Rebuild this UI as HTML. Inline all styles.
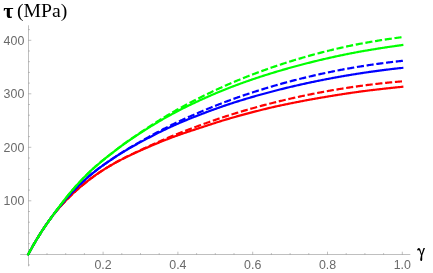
<!DOCTYPE html>
<html><head><meta charset="utf-8"><title>plot</title>
<style>
html,body{margin:0;padding:0;background:#fff;}
body{width:433px;height:273px;overflow:hidden;}
svg{display:block;will-change:transform;}
.tl text{font-family:"Liberation Sans",sans-serif;font-size:12.4px;fill:#6a6a6a;}
.al{font-family:"Liberation Serif",serif;fill:#000;}
</style></head><body>
<svg width="433" height="273" viewBox="0 0 433 273">
<rect width="433" height="273" fill="#fff"/>
<g stroke="#666" stroke-width="0.42" fill="none">
<line x1="20.2" y1="254.5" x2="410.3" y2="254.5"/>
<line x1="28.5" y1="25.3" x2="28.5" y2="266.3"/>
<line x1="47.00" y1="254.5" x2="47.00" y2="253.10"/>
<line x1="65.70" y1="254.5" x2="65.70" y2="253.10"/>
<line x1="84.40" y1="254.5" x2="84.40" y2="253.10"/>
<line x1="103.10" y1="254.5" x2="103.10" y2="251.70"/>
<line x1="121.80" y1="254.5" x2="121.80" y2="253.10"/>
<line x1="140.50" y1="254.5" x2="140.50" y2="253.10"/>
<line x1="159.20" y1="254.5" x2="159.20" y2="253.10"/>
<line x1="177.90" y1="254.5" x2="177.90" y2="251.70"/>
<line x1="196.60" y1="254.5" x2="196.60" y2="253.10"/>
<line x1="215.30" y1="254.5" x2="215.30" y2="253.10"/>
<line x1="234.00" y1="254.5" x2="234.00" y2="253.10"/>
<line x1="252.70" y1="254.5" x2="252.70" y2="251.70"/>
<line x1="271.40" y1="254.5" x2="271.40" y2="253.10"/>
<line x1="290.10" y1="254.5" x2="290.10" y2="253.10"/>
<line x1="308.80" y1="254.5" x2="308.80" y2="253.10"/>
<line x1="327.50" y1="254.5" x2="327.50" y2="251.70"/>
<line x1="346.20" y1="254.5" x2="346.20" y2="253.10"/>
<line x1="364.90" y1="254.5" x2="364.90" y2="253.10"/>
<line x1="383.60" y1="254.5" x2="383.60" y2="253.10"/>
<line x1="402.30" y1="254.5" x2="402.30" y2="251.70"/>
<line x1="28.5" y1="265.00" x2="29.90" y2="265.00"/>
<line x1="28.5" y1="243.60" x2="29.90" y2="243.60"/>
<line x1="28.5" y1="232.90" x2="29.90" y2="232.90"/>
<line x1="28.5" y1="222.20" x2="29.90" y2="222.20"/>
<line x1="28.5" y1="211.50" x2="29.90" y2="211.50"/>
<line x1="28.5" y1="200.80" x2="31.30" y2="200.80"/>
<line x1="28.5" y1="190.10" x2="29.90" y2="190.10"/>
<line x1="28.5" y1="179.40" x2="29.90" y2="179.40"/>
<line x1="28.5" y1="168.70" x2="29.90" y2="168.70"/>
<line x1="28.5" y1="158.00" x2="29.90" y2="158.00"/>
<line x1="28.5" y1="147.30" x2="31.30" y2="147.30"/>
<line x1="28.5" y1="136.60" x2="29.90" y2="136.60"/>
<line x1="28.5" y1="125.90" x2="29.90" y2="125.90"/>
<line x1="28.5" y1="115.20" x2="29.90" y2="115.20"/>
<line x1="28.5" y1="104.50" x2="29.90" y2="104.50"/>
<line x1="28.5" y1="93.80" x2="31.30" y2="93.80"/>
<line x1="28.5" y1="83.10" x2="29.90" y2="83.10"/>
<line x1="28.5" y1="72.40" x2="29.90" y2="72.40"/>
<line x1="28.5" y1="61.70" x2="29.90" y2="61.70"/>
<line x1="28.5" y1="51.00" x2="29.90" y2="51.00"/>
<line x1="28.5" y1="40.30" x2="31.30" y2="40.30"/>
<line x1="28.5" y1="29.60" x2="29.90" y2="29.60"/>
</g>
<g class="tl">
<text x="103.10" y="268.9" text-anchor="middle">0.2</text>
<text x="177.90" y="268.9" text-anchor="middle">0.4</text>
<text x="252.70" y="268.9" text-anchor="middle">0.6</text>
<text x="327.50" y="268.9" text-anchor="middle">0.8</text>
<text x="402.30" y="268.9" text-anchor="middle">1.0</text>
<text x="24.3" y="205.20" text-anchor="end">100</text>
<text x="24.3" y="151.70" text-anchor="end">200</text>
<text x="24.3" y="98.20" text-anchor="end">300</text>
<text x="24.3" y="44.70" text-anchor="end">400</text>
</g>
<g>
<path d="M28.30,254.30 L29.23,252.55 L30.17,250.82 L31.11,249.11 L32.04,247.43 L32.98,245.78 L33.91,244.15 L34.84,242.54 L35.78,240.95 L36.72,239.39 L37.65,237.85 L38.59,236.32 L39.52,234.82 L40.45,233.34 L41.39,231.88 L42.33,230.44 L43.26,229.01 L44.20,227.61 L45.13,226.22 L46.06,224.86 L47.00,223.51 L47.94,222.18 L48.87,220.88 L49.81,219.59 L50.74,218.32 L51.67,217.08 L52.61,215.85 L53.55,214.65 L54.48,213.46 L55.41,212.29 L56.35,211.15 L57.28,210.02 L58.22,208.92 L59.16,207.83 L60.09,206.76 L61.03,205.71 L61.96,204.68 L62.89,203.66 L63.83,202.66 L64.77,201.68 L65.70,200.71 L66.64,199.75 L67.57,198.80 L68.50,197.86 L69.44,196.93 L70.38,196.01 L71.31,195.10 L72.25,194.21 L73.18,193.32 L74.11,192.45 L75.05,191.58 L75.98,190.73 L76.92,189.89 L77.86,189.06 L78.79,188.24 L79.73,187.43 L80.66,186.63 L81.60,185.84 L82.53,185.06 L83.47,184.29 L84.40,183.53 L85.33,182.78 L86.27,182.04 L87.20,181.30 L88.14,180.58 L89.08,179.86 L90.01,179.15 L90.95,178.46 L91.88,177.76 L92.81,177.08 L93.75,176.41 L94.68,175.74 L95.62,175.08 L96.55,174.43 L97.49,173.79 L98.42,173.15 L99.36,172.52 L100.30,171.90 L101.23,171.28 L102.17,170.67 L103.10,170.07 L104.03,169.48 L104.97,168.89 L105.91,168.31 L106.84,167.74 L107.77,167.17 L108.71,166.61 L109.64,166.05 L110.58,165.51 L111.52,164.96 L112.45,164.43 L113.39,163.90 L114.32,163.37 L115.25,162.85 L116.19,162.34 L117.12,161.83 L118.06,161.33 L118.99,160.83 L119.93,160.34 L120.86,159.85 L121.80,159.37 L122.73,158.89 L123.67,158.42 L124.61,157.95 L125.54,157.49 L126.47,157.03 L127.41,156.57 L128.34,156.12 L129.28,155.67 L130.22,155.22 L131.15,154.78 L132.09,154.34 L133.02,153.90 L133.96,153.47 L134.89,153.04 L135.83,152.61 L136.76,152.18 L137.69,151.76 L138.63,151.34 L139.56,150.92 L140.50,150.50 L141.44,150.08 L142.37,149.67 L143.31,149.26 L144.24,148.85 L145.18,148.44 L146.11,148.03 L147.05,147.62 L147.98,147.22 L148.92,146.81 L149.85,146.41 L150.78,146.01 L151.72,145.61 L152.66,145.21 L153.59,144.81 L154.53,144.42 L155.46,144.03 L156.40,143.63 L157.33,143.25 L158.27,142.86 L159.20,142.47 L160.13,142.09 L161.07,141.71 L162.00,141.33 L162.94,140.95 L163.88,140.58 L164.81,140.21 L165.75,139.84 L166.68,139.47 L167.62,139.11 L168.55,138.75 L169.49,138.39 L170.42,138.03 L171.36,137.68 L172.29,137.33 L173.23,136.98 L174.16,136.63 L175.10,136.29 L176.03,135.95 L176.97,135.62 L177.90,135.28 L178.84,134.95 L179.77,134.62 L180.71,134.29 L181.64,133.97 L182.58,133.64 L183.51,133.32 L184.44,133.00 L185.38,132.69 L186.31,132.37 L187.25,132.06 L188.19,131.75 L189.12,131.44 L190.06,131.13 L190.99,130.82 L191.93,130.51 L192.86,130.21 L193.80,129.90 L194.73,129.60 L195.67,129.30 L196.60,128.99 L197.54,128.69 L198.47,128.39 L199.41,128.08 L200.34,127.78 L201.28,127.47 L202.21,127.16 L203.15,126.86 L204.08,126.55 L205.02,126.24 L205.95,125.93 L206.89,125.62 L207.82,125.31 L208.75,125.01 L209.69,124.70 L210.62,124.39 L211.56,124.09 L212.50,123.78 L213.43,123.48 L214.37,123.17 L215.30,122.87 L216.24,122.57 L217.17,122.27 L218.11,121.97 L219.04,121.68 L219.97,121.38 L220.91,121.09 L221.84,120.80 L222.78,120.52 L223.72,120.23 L224.65,119.95 L225.59,119.67 L226.52,119.39 L227.46,119.12 L228.39,118.84 L229.33,118.57 L230.26,118.29 L231.19,118.02 L232.13,117.75 L233.06,117.48 L234.00,117.22 L234.94,116.95 L235.87,116.69 L236.81,116.43 L237.74,116.16 L238.68,115.91 L239.61,115.65 L240.55,115.39 L241.48,115.13 L242.42,114.88 L243.35,114.62 L244.29,114.37 L245.22,114.12 L246.16,113.87 L247.09,113.62 L248.03,113.38 L248.96,113.13 L249.90,112.89 L250.83,112.64 L251.77,112.40 L252.70,112.15 L253.64,111.91 L254.57,111.67 L255.51,111.43 L256.44,111.19 L257.38,110.95 L258.31,110.71 L259.25,110.47 L260.18,110.24 L261.12,110.00 L262.05,109.77 L262.99,109.53 L263.92,109.30 L264.86,109.07 L265.79,108.84 L266.73,108.61 L267.66,108.39 L268.59,108.16 L269.53,107.94 L270.46,107.72 L271.40,107.50 L272.33,107.29 L273.27,107.07 L274.20,106.86 L275.14,106.65 L276.07,106.44 L277.01,106.24 L277.94,106.03 L278.88,105.83 L279.81,105.63 L280.75,105.43 L281.69,105.23 L282.62,105.03 L283.56,104.83 L284.49,104.64 L285.43,104.44 L286.36,104.24 L287.30,104.05 L288.23,103.86 L289.17,103.67 L290.10,103.48 L291.04,103.29 L291.97,103.10 L292.91,102.91 L293.84,102.72 L294.78,102.53 L295.71,102.35 L296.65,102.16 L297.58,101.98 L298.52,101.80 L299.45,101.61 L300.39,101.43 L301.32,101.25 L302.26,101.07 L303.19,100.89 L304.12,100.72 L305.06,100.54 L306.00,100.36 L306.93,100.19 L307.87,100.01 L308.80,99.84 L309.74,99.67 L310.67,99.50 L311.61,99.33 L312.54,99.16 L313.48,98.99 L314.41,98.83 L315.35,98.66 L316.28,98.50 L317.21,98.33 L318.15,98.17 L319.08,98.01 L320.02,97.85 L320.95,97.69 L321.89,97.53 L322.82,97.37 L323.76,97.21 L324.69,97.05 L325.63,96.90 L326.56,96.74 L327.50,96.58 L328.44,96.43 L329.37,96.27 L330.31,96.12 L331.24,95.97 L332.18,95.81 L333.11,95.66 L334.05,95.51 L334.98,95.36 L335.92,95.21 L336.85,95.06 L337.79,94.91 L338.72,94.76 L339.66,94.62 L340.59,94.47 L341.53,94.32 L342.46,94.18 L343.40,94.03 L344.33,93.89 L345.27,93.75 L346.20,93.60 L347.14,93.46 L348.07,93.32 L349.01,93.18 L349.94,93.04 L350.88,92.91 L351.81,92.77 L352.75,92.63 L353.68,92.50 L354.62,92.37 L355.55,92.23 L356.49,92.10 L357.42,91.97 L358.36,91.84 L359.29,91.71 L360.23,91.59 L361.16,91.46 L362.10,91.34 L363.03,91.21 L363.96,91.09 L364.90,90.97 L365.83,90.86 L366.77,90.74 L367.70,90.62 L368.64,90.51 L369.57,90.39 L370.51,90.28 L371.44,90.17 L372.38,90.05 L373.31,89.94 L374.25,89.83 L375.19,89.72 L376.12,89.61 L377.06,89.51 L377.99,89.40 L378.93,89.29 L379.86,89.18 L380.80,89.07 L381.73,88.97 L382.67,88.86 L383.60,88.75 L384.54,88.65 L385.47,88.55 L386.41,88.44 L387.34,88.34 L388.28,88.24 L389.21,88.14 L390.15,88.04 L391.08,87.94 L392.02,87.84 L392.95,87.74 L393.89,87.64 L394.82,87.54 L395.76,87.45 L396.69,87.35 L397.62,87.25 L398.56,87.16 L399.50,87.07 L400.43,86.97 L401.37,86.88 L402.30,86.79" fill="none" stroke="#ff0000" stroke-width="2.2" stroke-linejoin="round" stroke-linecap="square"/>
<path d="M28.30,254.30 L29.23,252.55 L30.17,250.82 L31.11,249.11 L32.04,247.43 L32.98,245.78 L33.91,244.15 L34.84,242.54 L35.78,240.95 L36.72,239.39 L37.65,237.85 L38.59,236.32 L39.52,234.82 L40.45,233.34 L41.39,231.88 L42.33,230.44 L43.26,229.01 L44.20,227.61 L45.13,226.22 L46.06,224.86 L47.00,223.51 L47.94,222.18 L48.87,220.88 L49.81,219.59 L50.74,218.32 L51.67,217.08 L52.61,215.85 L53.55,214.65 L54.48,213.46 L55.41,212.29 L56.35,211.15 L57.28,210.02 L58.22,208.92 L59.16,207.83 L60.09,206.76 L61.03,205.71 L61.96,204.68 L62.89,203.66 L63.83,202.66 L64.77,201.68 L65.70,200.71 L66.64,199.75 L67.57,198.80 L68.50,197.86 L69.44,196.93 L70.38,196.01 L71.31,195.10 L72.25,194.21 L73.18,193.32 L74.11,192.45 L75.05,191.58 L75.98,190.73 L76.92,189.89 L77.86,189.06 L78.79,188.24 L79.73,187.43 L80.66,186.63 L81.60,185.84 L82.53,185.06 L83.47,184.29 L84.40,183.53 L85.33,182.78 L86.27,182.04 L87.20,181.30 L88.14,180.58 L89.08,179.86 L90.01,179.15 L90.95,178.46 L91.88,177.76 L92.81,177.08 L93.75,176.41 L94.68,175.74 L95.62,175.08 L96.55,174.43 L97.49,173.79 L98.42,173.15 L99.36,172.52 L100.30,171.90 L101.23,171.28 L102.17,170.67 L103.10,170.07 L104.03,169.47 L104.97,168.88 L105.91,168.30 L106.84,167.72 L107.77,167.15 L108.71,166.58 L109.64,166.02 L110.58,165.47 L111.52,164.92 L112.45,164.38 L113.39,163.84 L114.32,163.31 L115.25,162.78 L116.19,162.26 L117.12,161.74 L118.06,161.23 L118.99,160.73 L119.93,160.23 L120.86,159.73 L121.80,159.24 L122.73,158.76 L123.67,158.27 L124.61,157.79 L125.54,157.32 L126.47,156.85 L127.41,156.38 L128.34,155.91 L129.28,155.45 L130.22,154.99 L131.15,154.53 L132.09,154.08 L133.02,153.63 L133.96,153.18 L134.89,152.73 L135.83,152.29 L136.76,151.84 L137.69,151.40 L138.63,150.96 L139.56,150.53 L140.50,150.09 L141.44,149.66 L142.37,149.22 L143.31,148.79 L144.24,148.36 L145.18,147.92 L146.11,147.49 L147.05,147.06 L147.98,146.63 L148.92,146.20 L149.85,145.78 L150.78,145.35 L151.72,144.92 L152.66,144.50 L153.59,144.08 L154.53,143.65 L155.46,143.23 L156.40,142.81 L157.33,142.40 L158.27,141.98 L159.20,141.57 L160.13,141.15 L161.07,140.74 L162.00,140.33 L162.94,139.93 L163.88,139.52 L164.81,139.12 L165.75,138.71 L166.68,138.31 L167.62,137.92 L168.55,137.52 L169.49,137.13 L170.42,136.74 L171.36,136.35 L172.29,135.96 L173.23,135.58 L174.16,135.20 L175.10,134.82 L176.03,134.44 L176.97,134.07 L177.90,133.70 L178.84,133.33 L179.77,132.96 L180.71,132.59 L181.64,132.23 L182.58,131.87 L183.51,131.51 L184.44,131.15 L185.38,130.79 L186.31,130.43 L187.25,130.08 L188.19,129.72 L189.12,129.37 L190.06,129.02 L190.99,128.67 L191.93,128.32 L192.86,127.97 L193.80,127.62 L194.73,127.27 L195.67,126.92 L196.60,126.58 L197.54,126.23 L198.47,125.89 L199.41,125.54 L200.34,125.20 L201.28,124.86 L202.21,124.52 L203.15,124.18 L204.08,123.84 L205.02,123.50 L205.95,123.17 L206.89,122.83 L207.82,122.50 L208.75,122.16 L209.69,121.83 L210.62,121.50 L211.56,121.17 L212.50,120.84 L213.43,120.52 L214.37,120.19 L215.30,119.87 L216.24,119.55 L217.17,119.23 L218.11,118.91 L219.04,118.59 L219.97,118.27 L220.91,117.96 L221.84,117.65 L222.78,117.34 L223.72,117.03 L224.65,116.72 L225.59,116.42 L226.52,116.11 L227.46,115.81 L228.39,115.51 L229.33,115.21 L230.26,114.91 L231.19,114.62 L232.13,114.32 L233.06,114.03 L234.00,113.74 L234.94,113.45 L235.87,113.16 L236.81,112.88 L237.74,112.59 L238.68,112.31 L239.61,112.03 L240.55,111.75 L241.48,111.47 L242.42,111.19 L243.35,110.91 L244.29,110.64 L245.22,110.37 L246.16,110.09 L247.09,109.82 L248.03,109.56 L248.96,109.29 L249.90,109.02 L250.83,108.76 L251.77,108.49 L252.70,108.23 L253.64,107.97 L254.57,107.71 L255.51,107.45 L256.44,107.19 L257.38,106.93 L258.31,106.68 L259.25,106.43 L260.18,106.17 L261.12,105.92 L262.05,105.67 L262.99,105.42 L263.92,105.17 L264.86,104.93 L265.79,104.68 L266.73,104.44 L267.66,104.20 L268.59,103.95 L269.53,103.71 L270.46,103.47 L271.40,103.24 L272.33,103.00 L273.27,102.76 L274.20,102.53 L275.14,102.30 L276.07,102.06 L277.01,101.83 L277.94,101.60 L278.88,101.37 L279.81,101.15 L280.75,100.92 L281.69,100.70 L282.62,100.47 L283.56,100.25 L284.49,100.03 L285.43,99.81 L286.36,99.59 L287.30,99.37 L288.23,99.15 L289.17,98.94 L290.10,98.72 L291.04,98.51 L291.97,98.30 L292.91,98.09 L293.84,97.88 L294.78,97.67 L295.71,97.46 L296.65,97.26 L297.58,97.05 L298.52,96.85 L299.45,96.65 L300.39,96.44 L301.32,96.24 L302.26,96.04 L303.19,95.85 L304.12,95.65 L305.06,95.45 L306.00,95.26 L306.93,95.07 L307.87,94.87 L308.80,94.68 L309.74,94.49 L310.67,94.31 L311.61,94.12 L312.54,93.93 L313.48,93.75 L314.41,93.56 L315.35,93.38 L316.28,93.20 L317.21,93.02 L318.15,92.84 L319.08,92.66 L320.02,92.48 L320.95,92.31 L321.89,92.13 L322.82,91.96 L323.76,91.79 L324.69,91.61 L325.63,91.44 L326.56,91.28 L327.50,91.11 L328.44,90.94 L329.37,90.77 L330.31,90.61 L331.24,90.45 L332.18,90.28 L333.11,90.12 L334.05,89.96 L334.98,89.81 L335.92,89.65 L336.85,89.49 L337.79,89.34 L338.72,89.18 L339.66,89.03 L340.59,88.88 L341.53,88.73 L342.46,88.58 L343.40,88.43 L344.33,88.28 L345.27,88.13 L346.20,87.99 L347.14,87.84 L348.07,87.70 L349.01,87.56 L349.94,87.42 L350.88,87.28 L351.81,87.14 L352.75,87.00 L353.68,86.87 L354.62,86.73 L355.55,86.60 L356.49,86.47 L357.42,86.33 L358.36,86.20 L359.29,86.07 L360.23,85.95 L361.16,85.82 L362.10,85.69 L363.03,85.57 L363.96,85.44 L364.90,85.32 L365.83,85.20 L366.77,85.08 L367.70,84.96 L368.64,84.84 L369.57,84.72 L370.51,84.61 L371.44,84.49 L372.38,84.38 L373.31,84.27 L374.25,84.16 L375.19,84.04 L376.12,83.94 L377.06,83.83 L377.99,83.72 L378.93,83.61 L379.86,83.51 L380.80,83.41 L381.73,83.30 L382.67,83.20 L383.60,83.10 L384.54,83.00 L385.47,82.90 L386.41,82.81 L387.34,82.71 L388.28,82.62 L389.21,82.52 L390.15,82.43 L391.08,82.34 L392.02,82.25 L392.95,82.16 L393.89,82.07 L394.82,81.98 L395.76,81.90 L396.69,81.81 L397.62,81.73 L398.56,81.64 L399.50,81.56 L400.43,81.48 L401.37,81.40 L402.30,81.32" fill="none" stroke="#ff0000" stroke-width="2.2" stroke-dasharray="4.91 4.91" stroke-linejoin="round" stroke-linecap="square"/>
<path d="M28.30,254.30 L29.23,252.55 L30.17,250.82 L31.11,249.11 L32.04,247.43 L32.98,245.78 L33.91,244.15 L34.84,242.54 L35.78,240.95 L36.72,239.39 L37.65,237.85 L38.59,236.32 L39.52,234.82 L40.45,233.35 L41.39,231.89 L42.33,230.45 L43.26,229.03 L44.20,227.63 L45.13,226.24 L46.06,224.88 L47.00,223.53 L47.94,222.19 L48.87,220.86 L49.81,219.55 L50.74,218.26 L51.67,216.98 L52.61,215.71 L53.55,214.45 L54.48,213.21 L55.41,211.99 L56.35,210.77 L57.28,209.58 L58.22,208.39 L59.16,207.22 L60.09,206.07 L61.03,204.93 L61.96,203.79 L62.89,202.67 L63.83,201.56 L64.77,200.46 L65.70,199.38 L66.64,198.30 L67.57,197.24 L68.50,196.19 L69.44,195.16 L70.38,194.14 L71.31,193.13 L72.25,192.13 L73.18,191.15 L74.11,190.19 L75.05,189.24 L75.98,188.30 L76.92,187.37 L77.86,186.46 L78.79,185.55 L79.73,184.65 L80.66,183.77 L81.60,182.89 L82.53,182.02 L83.47,181.16 L84.40,180.31 L85.33,179.47 L86.27,178.64 L87.20,177.82 L88.14,177.00 L89.08,176.20 L90.01,175.40 L90.95,174.62 L91.88,173.84 L92.81,173.08 L93.75,172.32 L94.68,171.58 L95.62,170.85 L96.55,170.12 L97.49,169.40 L98.42,168.69 L99.36,167.99 L100.30,167.29 L101.23,166.60 L102.17,165.93 L103.10,165.26 L104.03,164.60 L104.97,163.94 L105.91,163.30 L106.84,162.65 L107.77,162.01 L108.71,161.38 L109.64,160.75 L110.58,160.11 L111.52,159.48 L112.45,158.85 L113.39,158.22 L114.32,157.60 L115.25,156.99 L116.19,156.38 L117.12,155.77 L118.06,155.17 L118.99,154.58 L119.93,153.99 L120.86,153.41 L121.80,152.83 L122.73,152.26 L123.67,151.69 L124.61,151.13 L125.54,150.57 L126.47,150.02 L127.41,149.47 L128.34,148.92 L129.28,148.38 L130.22,147.84 L131.15,147.31 L132.09,146.78 L133.02,146.25 L133.96,145.72 L134.89,145.20 L135.83,144.68 L136.76,144.17 L137.69,143.65 L138.63,143.14 L139.56,142.63 L140.50,142.12 L141.44,141.62 L142.37,141.12 L143.31,140.62 L144.24,140.12 L145.18,139.62 L146.11,139.12 L147.05,138.63 L147.98,138.14 L148.92,137.65 L149.85,137.16 L150.78,136.68 L151.72,136.19 L152.66,135.71 L153.59,135.23 L154.53,134.75 L155.46,134.28 L156.40,133.80 L157.33,133.33 L158.27,132.86 L159.20,132.39 L160.13,131.93 L161.07,131.47 L162.00,131.01 L162.94,130.55 L163.88,130.10 L164.81,129.65 L165.75,129.20 L166.68,128.75 L167.62,128.31 L168.55,127.87 L169.49,127.44 L170.42,127.01 L171.36,126.58 L172.29,126.15 L173.23,125.73 L174.16,125.31 L175.10,124.89 L176.03,124.48 L176.97,124.07 L177.90,123.66 L178.84,123.25 L179.77,122.85 L180.71,122.45 L181.64,122.06 L182.58,121.66 L183.51,121.27 L184.44,120.88 L185.38,120.49 L186.31,120.11 L187.25,119.73 L188.19,119.34 L189.12,118.97 L190.06,118.59 L190.99,118.21 L191.93,117.84 L192.86,117.47 L193.80,117.10 L194.73,116.73 L195.67,116.36 L196.60,115.99 L197.54,115.63 L198.47,115.26 L199.41,114.90 L200.34,114.54 L201.28,114.18 L202.21,113.82 L203.15,113.46 L204.08,113.10 L205.02,112.75 L205.95,112.39 L206.89,112.04 L207.82,111.69 L208.75,111.34 L209.69,110.99 L210.62,110.65 L211.56,110.30 L212.50,109.96 L213.43,109.62 L214.37,109.28 L215.30,108.94 L216.24,108.61 L217.17,108.27 L218.11,107.94 L219.04,107.61 L219.97,107.28 L220.91,106.95 L221.84,106.63 L222.78,106.30 L223.72,105.98 L224.65,105.66 L225.59,105.34 L226.52,105.03 L227.46,104.71 L228.39,104.40 L229.33,104.09 L230.26,103.78 L231.19,103.48 L232.13,103.17 L233.06,102.87 L234.00,102.57 L234.94,102.27 L235.87,101.97 L236.81,101.67 L237.74,101.38 L238.68,101.08 L239.61,100.79 L240.55,100.50 L241.48,100.21 L242.42,99.93 L243.35,99.64 L244.29,99.36 L245.22,99.08 L246.16,98.79 L247.09,98.51 L248.03,98.24 L248.96,97.96 L249.90,97.68 L250.83,97.41 L251.77,97.14 L252.70,96.87 L253.64,96.60 L254.57,96.33 L255.51,96.06 L256.44,95.79 L257.38,95.53 L258.31,95.26 L259.25,95.00 L260.18,94.74 L261.12,94.48 L262.05,94.22 L262.99,93.96 L263.92,93.71 L264.86,93.45 L265.79,93.20 L266.73,92.95 L267.66,92.70 L268.59,92.45 L269.53,92.20 L270.46,91.95 L271.40,91.70 L272.33,91.46 L273.27,91.21 L274.20,90.97 L275.14,90.73 L276.07,90.49 L277.01,90.25 L277.94,90.01 L278.88,89.77 L279.81,89.54 L280.75,89.30 L281.69,89.07 L282.62,88.84 L283.56,88.61 L284.49,88.38 L285.43,88.15 L286.36,87.92 L287.30,87.69 L288.23,87.47 L289.17,87.24 L290.10,87.02 L291.04,86.80 L291.97,86.58 L292.91,86.36 L293.84,86.14 L294.78,85.92 L295.71,85.71 L296.65,85.49 L297.58,85.28 L298.52,85.06 L299.45,84.85 L300.39,84.64 L301.32,84.43 L302.26,84.22 L303.19,84.01 L304.12,83.81 L305.06,83.60 L306.00,83.40 L306.93,83.19 L307.87,82.99 L308.80,82.79 L309.74,82.59 L310.67,82.39 L311.61,82.19 L312.54,82.00 L313.48,81.80 L314.41,81.61 L315.35,81.41 L316.28,81.22 L317.21,81.03 L318.15,80.84 L319.08,80.65 L320.02,80.46 L320.95,80.27 L321.89,80.09 L322.82,79.90 L323.76,79.72 L324.69,79.54 L325.63,79.35 L326.56,79.17 L327.50,78.99 L328.44,78.82 L329.37,78.64 L330.31,78.46 L331.24,78.29 L332.18,78.11 L333.11,77.94 L334.05,77.76 L334.98,77.59 L335.92,77.42 L336.85,77.25 L337.79,77.08 L338.72,76.92 L339.66,76.75 L340.59,76.59 L341.53,76.42 L342.46,76.26 L343.40,76.10 L344.33,75.93 L345.27,75.77 L346.20,75.61 L347.14,75.46 L348.07,75.30 L349.01,75.14 L349.94,74.99 L350.88,74.83 L351.81,74.68 L352.75,74.53 L353.68,74.38 L354.62,74.23 L355.55,74.08 L356.49,73.93 L357.42,73.78 L358.36,73.64 L359.29,73.49 L360.23,73.35 L361.16,73.20 L362.10,73.06 L363.03,72.92 L363.96,72.78 L364.90,72.64 L365.83,72.50 L366.77,72.37 L367.70,72.23 L368.64,72.09 L369.57,71.96 L370.51,71.83 L371.44,71.69 L372.38,71.56 L373.31,71.43 L374.25,71.30 L375.19,71.17 L376.12,71.05 L377.06,70.92 L377.99,70.79 L378.93,70.67 L379.86,70.55 L380.80,70.42 L381.73,70.30 L382.67,70.18 L383.60,70.06 L384.54,69.94 L385.47,69.83 L386.41,69.71 L387.34,69.59 L388.28,69.48 L389.21,69.36 L390.15,69.25 L391.08,69.14 L392.02,69.03 L392.95,68.92 L393.89,68.81 L394.82,68.70 L395.76,68.60 L396.69,68.49 L397.62,68.38 L398.56,68.28 L399.50,68.18 L400.43,68.07 L401.37,67.97 L402.30,67.87" fill="none" stroke="#0000ff" stroke-width="2.2" stroke-linejoin="round" stroke-linecap="square"/>
<path d="M28.30,254.30 L29.23,252.55 L30.17,250.82 L31.11,249.11 L32.04,247.43 L32.98,245.78 L33.91,244.15 L34.84,242.54 L35.78,240.95 L36.72,239.39 L37.65,237.85 L38.59,236.32 L39.52,234.82 L40.45,233.35 L41.39,231.89 L42.33,230.45 L43.26,229.03 L44.20,227.63 L45.13,226.24 L46.06,224.88 L47.00,223.53 L47.94,222.19 L48.87,220.86 L49.81,219.55 L50.74,218.26 L51.67,216.98 L52.61,215.71 L53.55,214.45 L54.48,213.21 L55.41,211.99 L56.35,210.77 L57.28,209.58 L58.22,208.39 L59.16,207.22 L60.09,206.07 L61.03,204.93 L61.96,203.79 L62.89,202.67 L63.83,201.56 L64.77,200.46 L65.70,199.38 L66.64,198.30 L67.57,197.24 L68.50,196.19 L69.44,195.16 L70.38,194.14 L71.31,193.13 L72.25,192.13 L73.18,191.15 L74.11,190.19 L75.05,189.24 L75.98,188.30 L76.92,187.37 L77.86,186.46 L78.79,185.55 L79.73,184.65 L80.66,183.77 L81.60,182.89 L82.53,182.02 L83.47,181.16 L84.40,180.31 L85.33,179.47 L86.27,178.64 L87.20,177.82 L88.14,177.00 L89.08,176.20 L90.01,175.40 L90.95,174.62 L91.88,173.84 L92.81,173.08 L93.75,172.32 L94.68,171.58 L95.62,170.85 L96.55,170.12 L97.49,169.40 L98.42,168.69 L99.36,167.98 L100.30,167.28 L101.23,166.59 L102.17,165.90 L103.10,165.23 L104.03,164.56 L104.97,163.90 L105.91,163.25 L106.84,162.60 L107.77,161.95 L108.71,161.31 L109.64,160.67 L110.58,160.03 L111.52,159.38 L112.45,158.74 L113.39,158.11 L114.32,157.48 L115.25,156.85 L116.19,156.23 L117.12,155.62 L118.06,155.01 L118.99,154.40 L119.93,153.81 L120.86,153.21 L121.80,152.63 L122.73,152.04 L123.67,151.46 L124.61,150.89 L125.54,150.31 L126.47,149.74 L127.41,149.18 L128.34,148.62 L129.28,148.06 L130.22,147.50 L131.15,146.95 L132.09,146.40 L133.02,145.86 L133.96,145.31 L134.89,144.77 L135.83,144.23 L136.76,143.70 L137.69,143.16 L138.63,142.63 L139.56,142.10 L140.50,141.57 L141.44,141.04 L142.37,140.51 L143.31,139.99 L144.24,139.46 L145.18,138.94 L146.11,138.42 L147.05,137.90 L147.98,137.38 L148.92,136.86 L149.85,136.35 L150.78,135.83 L151.72,135.32 L152.66,134.81 L153.59,134.30 L154.53,133.79 L155.46,133.29 L156.40,132.78 L157.33,132.28 L158.27,131.78 L159.20,131.29 L160.13,130.79 L161.07,130.30 L162.00,129.81 L162.94,129.32 L163.88,128.84 L164.81,128.35 L165.75,127.87 L166.68,127.40 L167.62,126.92 L168.55,126.45 L169.49,125.98 L170.42,125.52 L171.36,125.06 L172.29,124.60 L173.23,124.14 L174.16,123.69 L175.10,123.24 L176.03,122.79 L176.97,122.35 L177.90,121.91 L178.84,121.47 L179.77,121.03 L180.71,120.60 L181.64,120.17 L182.58,119.74 L183.51,119.31 L184.44,118.89 L185.38,118.47 L186.31,118.05 L187.25,117.63 L188.19,117.21 L189.12,116.80 L190.06,116.39 L190.99,115.98 L191.93,115.57 L192.86,115.16 L193.80,114.75 L194.73,114.35 L195.67,113.95 L196.60,113.54 L197.54,113.14 L198.47,112.74 L199.41,112.34 L200.34,111.95 L201.28,111.55 L202.21,111.16 L203.15,110.76 L204.08,110.37 L205.02,109.98 L205.95,109.59 L206.89,109.21 L207.82,108.82 L208.75,108.43 L209.69,108.05 L210.62,107.67 L211.56,107.29 L212.50,106.91 L213.43,106.53 L214.37,106.16 L215.30,105.79 L216.24,105.42 L217.17,105.05 L218.11,104.68 L219.04,104.31 L219.97,103.95 L220.91,103.59 L221.84,103.23 L222.78,102.87 L223.72,102.51 L224.65,102.16 L225.59,101.81 L226.52,101.46 L227.46,101.11 L228.39,100.76 L229.33,100.42 L230.26,100.07 L231.19,99.73 L232.13,99.39 L233.06,99.06 L234.00,98.72 L234.94,98.39 L235.87,98.06 L236.81,97.73 L237.74,97.40 L238.68,97.07 L239.61,96.75 L240.55,96.42 L241.48,96.10 L242.42,95.78 L243.35,95.46 L244.29,95.15 L245.22,94.83 L246.16,94.52 L247.09,94.21 L248.03,93.90 L248.96,93.59 L249.90,93.28 L250.83,92.97 L251.77,92.67 L252.70,92.37 L253.64,92.07 L254.57,91.77 L255.51,91.47 L256.44,91.17 L257.38,90.87 L258.31,90.58 L259.25,90.29 L260.18,90.00 L261.12,89.71 L262.05,89.42 L262.99,89.13 L263.92,88.84 L264.86,88.56 L265.79,88.28 L266.73,87.99 L267.66,87.71 L268.59,87.44 L269.53,87.16 L270.46,86.88 L271.40,86.61 L272.33,86.33 L273.27,86.06 L274.20,85.79 L275.14,85.52 L276.07,85.25 L277.01,84.99 L277.94,84.72 L278.88,84.46 L279.81,84.19 L280.75,83.93 L281.69,83.67 L282.62,83.42 L283.56,83.16 L284.49,82.90 L285.43,82.65 L286.36,82.39 L287.30,82.14 L288.23,81.89 L289.17,81.64 L290.10,81.40 L291.04,81.15 L291.97,80.90 L292.91,80.66 L293.84,80.42 L294.78,80.18 L295.71,79.94 L296.65,79.70 L297.58,79.46 L298.52,79.22 L299.45,78.99 L300.39,78.76 L301.32,78.52 L302.26,78.29 L303.19,78.06 L304.12,77.83 L305.06,77.61 L306.00,77.38 L306.93,77.16 L307.87,76.93 L308.80,76.71 L309.74,76.49 L310.67,76.27 L311.61,76.06 L312.54,75.84 L313.48,75.62 L314.41,75.41 L315.35,75.20 L316.28,74.99 L317.21,74.78 L318.15,74.57 L319.08,74.36 L320.02,74.15 L320.95,73.95 L321.89,73.74 L322.82,73.54 L323.76,73.34 L324.69,73.14 L325.63,72.94 L326.56,72.74 L327.50,72.55 L328.44,72.35 L329.37,72.16 L330.31,71.97 L331.24,71.78 L332.18,71.59 L333.11,71.40 L334.05,71.21 L334.98,71.02 L335.92,70.84 L336.85,70.66 L337.79,70.47 L338.72,70.29 L339.66,70.11 L340.59,69.93 L341.53,69.76 L342.46,69.58 L343.40,69.41 L344.33,69.23 L345.27,69.06 L346.20,68.89 L347.14,68.72 L348.07,68.55 L349.01,68.38 L349.94,68.22 L350.88,68.05 L351.81,67.89 L352.75,67.73 L353.68,67.56 L354.62,67.40 L355.55,67.25 L356.49,67.09 L357.42,66.93 L358.36,66.78 L359.29,66.62 L360.23,66.47 L361.16,66.32 L362.10,66.17 L363.03,66.02 L363.96,65.87 L364.90,65.73 L365.83,65.58 L366.77,65.44 L367.70,65.29 L368.64,65.15 L369.57,65.01 L370.51,64.87 L371.44,64.74 L372.38,64.60 L373.31,64.46 L374.25,64.33 L375.19,64.20 L376.12,64.06 L377.06,63.93 L377.99,63.80 L378.93,63.68 L379.86,63.55 L380.80,63.42 L381.73,63.30 L382.67,63.18 L383.60,63.05 L384.54,62.93 L385.47,62.81 L386.41,62.69 L387.34,62.58 L388.28,62.46 L389.21,62.35 L390.15,62.23 L391.08,62.12 L392.02,62.01 L392.95,61.90 L393.89,61.79 L394.82,61.68 L395.76,61.58 L396.69,61.47 L397.62,61.37 L398.56,61.26 L399.50,61.16 L400.43,61.06 L401.37,60.96 L402.30,60.86" fill="none" stroke="#0000ff" stroke-width="2.2" stroke-dasharray="4.91 4.91" stroke-linejoin="round" stroke-linecap="square"/>
<path d="M28.30,254.30 L29.23,252.55 L30.17,250.82 L31.11,249.11 L32.04,247.43 L32.98,245.78 L33.91,244.15 L34.84,242.54 L35.78,240.95 L36.72,239.39 L37.65,237.85 L38.59,236.33 L39.52,234.83 L40.45,233.35 L41.39,231.90 L42.33,230.47 L43.26,229.06 L44.20,227.67 L45.13,226.30 L46.06,224.94 L47.00,223.59 L47.94,222.25 L48.87,220.91 L49.81,219.59 L50.74,218.27 L51.67,216.97 L52.61,215.66 L53.55,214.37 L54.48,213.09 L55.41,211.81 L56.35,210.54 L57.28,209.27 L58.22,208.02 L59.16,206.78 L60.09,205.54 L61.03,204.31 L61.96,203.09 L62.89,201.87 L63.83,200.65 L64.77,199.45 L65.70,198.25 L66.64,197.06 L67.57,195.89 L68.50,194.73 L69.44,193.58 L70.38,192.46 L71.31,191.35 L72.25,190.25 L73.18,189.17 L74.11,188.10 L75.05,187.06 L75.98,186.02 L76.92,184.99 L77.86,183.98 L78.79,182.97 L79.73,181.97 L80.66,180.98 L81.60,180.00 L82.53,179.02 L83.47,178.06 L84.40,177.11 L85.33,176.16 L86.27,175.22 L87.20,174.29 L88.14,173.37 L89.08,172.46 L90.01,171.55 L90.95,170.66 L91.88,169.79 L92.81,168.93 L93.75,168.09 L94.68,167.27 L95.62,166.45 L96.55,165.65 L97.49,164.85 L98.42,164.06 L99.36,163.27 L100.30,162.48 L101.23,161.70 L102.17,160.93 L103.10,160.17 L104.03,159.42 L104.97,158.68 L105.91,157.94 L106.84,157.20 L107.77,156.47 L108.71,155.74 L109.64,155.00 L110.58,154.27 L111.52,153.53 L112.45,152.79 L113.39,152.05 L114.32,151.32 L115.25,150.60 L116.19,149.88 L117.12,149.17 L118.06,148.46 L118.99,147.76 L119.93,147.06 L120.86,146.37 L121.80,145.69 L122.73,145.01 L123.67,144.33 L124.61,143.66 L125.54,143.00 L126.47,142.34 L127.41,141.69 L128.34,141.04 L129.28,140.39 L130.22,139.75 L131.15,139.11 L132.09,138.48 L133.02,137.85 L133.96,137.22 L134.89,136.60 L135.83,135.98 L136.76,135.36 L137.69,134.74 L138.63,134.13 L139.56,133.53 L140.50,132.92 L141.44,132.32 L142.37,131.72 L143.31,131.12 L144.24,130.52 L145.18,129.93 L146.11,129.34 L147.05,128.75 L147.98,128.17 L148.92,127.58 L149.85,127.00 L150.78,126.42 L151.72,125.85 L152.66,125.27 L153.59,124.70 L154.53,124.13 L155.46,123.57 L156.40,123.00 L157.33,122.44 L158.27,121.88 L159.20,121.33 L160.13,120.78 L161.07,120.23 L162.00,119.68 L162.94,119.14 L163.88,118.60 L164.81,118.07 L165.75,117.53 L166.68,117.01 L167.62,116.48 L168.55,115.96 L169.49,115.44 L170.42,114.93 L171.36,114.42 L172.29,113.91 L173.23,113.41 L174.16,112.91 L175.10,112.41 L176.03,111.92 L176.97,111.43 L177.90,110.95 L178.84,110.46 L179.77,109.98 L180.71,109.51 L181.64,109.04 L182.58,108.57 L183.51,108.10 L184.44,107.64 L185.38,107.18 L186.31,106.72 L187.25,106.26 L188.19,105.81 L189.12,105.36 L190.06,104.91 L190.99,104.46 L191.93,104.02 L192.86,103.58 L193.80,103.14 L194.73,102.70 L195.67,102.26 L196.60,101.83 L197.54,101.39 L198.47,100.96 L199.41,100.53 L200.34,100.11 L201.28,99.68 L202.21,99.26 L203.15,98.83 L204.08,98.41 L205.02,97.99 L205.95,97.58 L206.89,97.16 L207.82,96.75 L208.75,96.33 L209.69,95.92 L210.62,95.52 L211.56,95.11 L212.50,94.71 L213.43,94.30 L214.37,93.90 L215.30,93.51 L216.24,93.11 L217.17,92.72 L218.11,92.33 L219.04,91.94 L219.97,91.55 L220.91,91.17 L221.84,90.78 L222.78,90.40 L223.72,90.03 L224.65,89.65 L225.59,89.28 L226.52,88.91 L227.46,88.54 L228.39,88.17 L229.33,87.81 L230.26,87.44 L231.19,87.08 L232.13,86.73 L233.06,86.37 L234.00,86.01 L234.94,85.66 L235.87,85.31 L236.81,84.96 L237.74,84.62 L238.68,84.27 L239.61,83.93 L240.55,83.59 L241.48,83.25 L242.42,82.91 L243.35,82.58 L244.29,82.25 L245.22,81.91 L246.16,81.58 L247.09,81.26 L248.03,80.93 L248.96,80.60 L249.90,80.28 L250.83,79.96 L251.77,79.64 L252.70,79.32 L253.64,79.00 L254.57,78.69 L255.51,78.38 L256.44,78.06 L257.38,77.75 L258.31,77.44 L259.25,77.14 L260.18,76.83 L261.12,76.52 L262.05,76.22 L262.99,75.92 L263.92,75.62 L264.86,75.32 L265.79,75.02 L266.73,74.73 L267.66,74.43 L268.59,74.14 L269.53,73.85 L270.46,73.56 L271.40,73.27 L272.33,72.98 L273.27,72.70 L274.20,72.41 L275.14,72.13 L276.07,71.85 L277.01,71.57 L277.94,71.29 L278.88,71.01 L279.81,70.73 L280.75,70.46 L281.69,70.18 L282.62,69.91 L283.56,69.64 L284.49,69.37 L285.43,69.10 L286.36,68.84 L287.30,68.57 L288.23,68.31 L289.17,68.04 L290.10,67.78 L291.04,67.52 L291.97,67.26 L292.91,67.00 L293.84,66.75 L294.78,66.49 L295.71,66.24 L296.65,65.98 L297.58,65.73 L298.52,65.48 L299.45,65.23 L300.39,64.98 L301.32,64.74 L302.26,64.49 L303.19,64.25 L304.12,64.00 L305.06,63.76 L306.00,63.52 L306.93,63.28 L307.87,63.04 L308.80,62.81 L309.74,62.57 L310.67,62.34 L311.61,62.10 L312.54,61.87 L313.48,61.64 L314.41,61.41 L315.35,61.18 L316.28,60.95 L317.21,60.73 L318.15,60.50 L319.08,60.28 L320.02,60.05 L320.95,59.83 L321.89,59.61 L322.82,59.39 L323.76,59.18 L324.69,58.96 L325.63,58.74 L326.56,58.53 L327.50,58.31 L328.44,58.10 L329.37,57.89 L330.31,57.68 L331.24,57.47 L332.18,57.26 L333.11,57.06 L334.05,56.85 L334.98,56.65 L335.92,56.44 L336.85,56.24 L337.79,56.04 L338.72,55.84 L339.66,55.64 L340.59,55.44 L341.53,55.24 L342.46,55.05 L343.40,54.85 L344.33,54.66 L345.27,54.47 L346.20,54.28 L347.14,54.09 L348.07,53.90 L349.01,53.71 L349.94,53.53 L350.88,53.35 L351.81,53.17 L352.75,52.99 L353.68,52.81 L354.62,52.63 L355.55,52.46 L356.49,52.29 L357.42,52.11 L358.36,51.94 L359.29,51.77 L360.23,51.61 L361.16,51.44 L362.10,51.27 L363.03,51.11 L363.96,50.95 L364.90,50.78 L365.83,50.62 L366.77,50.46 L367.70,50.30 L368.64,50.15 L369.57,49.99 L370.51,49.83 L371.44,49.68 L372.38,49.52 L373.31,49.37 L374.25,49.22 L375.19,49.06 L376.12,48.91 L377.06,48.76 L377.99,48.61 L378.93,48.46 L379.86,48.32 L380.80,48.17 L381.73,48.02 L382.67,47.88 L383.60,47.74 L384.54,47.59 L385.47,47.45 L386.41,47.31 L387.34,47.17 L388.28,47.03 L389.21,46.90 L390.15,46.76 L391.08,46.62 L392.02,46.49 L392.95,46.36 L393.89,46.22 L394.82,46.09 L395.76,45.96 L396.69,45.83 L397.62,45.71 L398.56,45.58 L399.50,45.45 L400.43,45.33 L401.37,45.20 L402.30,45.08" fill="none" stroke="#00ff00" stroke-width="2.2" stroke-linejoin="round" stroke-linecap="square"/>
<path d="M28.30,254.30 L29.23,252.55 L30.17,250.82 L31.11,249.11 L32.04,247.43 L32.98,245.78 L33.91,244.15 L34.84,242.54 L35.78,240.95 L36.72,239.39 L37.65,237.85 L38.59,236.33 L39.52,234.83 L40.45,233.35 L41.39,231.90 L42.33,230.47 L43.26,229.06 L44.20,227.67 L45.13,226.30 L46.06,224.94 L47.00,223.59 L47.94,222.25 L48.87,220.91 L49.81,219.59 L50.74,218.27 L51.67,216.97 L52.61,215.66 L53.55,214.37 L54.48,213.09 L55.41,211.81 L56.35,210.54 L57.28,209.27 L58.22,208.02 L59.16,206.78 L60.09,205.54 L61.03,204.31 L61.96,203.09 L62.89,201.87 L63.83,200.65 L64.77,199.45 L65.70,198.25 L66.64,197.06 L67.57,195.89 L68.50,194.73 L69.44,193.58 L70.38,192.46 L71.31,191.35 L72.25,190.25 L73.18,189.17 L74.11,188.10 L75.05,187.06 L75.98,186.02 L76.92,184.99 L77.86,183.98 L78.79,182.97 L79.73,181.97 L80.66,180.98 L81.60,180.00 L82.53,179.02 L83.47,178.06 L84.40,177.11 L85.33,176.16 L86.27,175.22 L87.20,174.29 L88.14,173.37 L89.08,172.46 L90.01,171.55 L90.95,170.66 L91.88,169.79 L92.81,168.93 L93.75,168.09 L94.68,167.27 L95.62,166.45 L96.55,165.65 L97.49,164.85 L98.42,164.05 L99.36,163.26 L100.30,162.47 L101.23,161.69 L102.17,160.92 L103.10,160.15 L104.03,159.40 L104.97,158.65 L105.91,157.90 L106.84,157.16 L107.77,156.42 L108.71,155.68 L109.64,154.94 L110.58,154.20 L111.52,153.46 L112.45,152.71 L113.39,151.96 L114.32,151.23 L115.25,150.49 L116.19,149.77 L117.12,149.05 L118.06,148.33 L118.99,147.62 L119.93,146.92 L120.86,146.22 L121.80,145.53 L122.73,144.84 L123.67,144.16 L124.61,143.48 L125.54,142.81 L126.47,142.14 L127.41,141.47 L128.34,140.81 L129.28,140.16 L130.22,139.50 L131.15,138.85 L132.09,138.21 L133.02,137.57 L133.96,136.93 L134.89,136.29 L135.83,135.66 L136.76,135.03 L137.69,134.40 L138.63,133.78 L139.56,133.16 L140.50,132.53 L141.44,131.90 L142.37,131.28 L143.31,130.65 L144.24,130.03 L145.18,129.41 L146.11,128.80 L147.05,128.18 L147.98,127.57 L148.92,126.95 L149.85,126.34 L150.78,125.74 L151.72,125.13 L152.66,124.53 L153.59,123.93 L154.53,123.33 L155.46,122.73 L156.40,122.13 L157.33,121.54 L158.27,120.95 L159.20,120.37 L160.13,119.78 L161.07,119.20 L162.00,118.62 L162.94,118.05 L163.88,117.47 L164.81,116.90 L165.75,116.34 L166.68,115.77 L167.62,115.21 L168.55,114.66 L169.49,114.10 L170.42,113.55 L171.36,113.01 L172.29,112.46 L173.23,111.93 L174.16,111.39 L175.10,110.86 L176.03,110.33 L176.97,109.80 L177.90,109.28 L178.84,108.76 L179.77,108.24 L180.71,107.73 L181.64,107.22 L182.58,106.71 L183.51,106.20 L184.44,105.70 L185.38,105.20 L186.31,104.70 L187.25,104.21 L188.19,103.72 L189.12,103.23 L190.06,102.74 L190.99,102.25 L191.93,101.77 L192.86,101.29 L193.80,100.80 L194.73,100.33 L195.67,99.85 L196.60,99.37 L197.54,98.90 L198.47,98.43 L199.41,97.96 L200.34,97.49 L201.28,97.02 L202.21,96.56 L203.15,96.09 L204.08,95.63 L205.02,95.17 L205.95,94.71 L206.89,94.25 L207.82,93.80 L208.75,93.34 L209.69,92.89 L210.62,92.44 L211.56,92.00 L212.50,91.55 L213.43,91.11 L214.37,90.67 L215.30,90.23 L216.24,89.79 L217.17,89.35 L218.11,88.92 L219.04,88.49 L219.97,88.06 L220.91,87.64 L221.84,87.21 L222.78,86.79 L223.72,86.37 L224.65,85.95 L225.59,85.54 L226.52,85.13 L227.46,84.72 L228.39,84.31 L229.33,83.90 L230.26,83.50 L231.19,83.10 L232.13,82.70 L233.06,82.30 L234.00,81.91 L234.94,81.51 L235.87,81.12 L236.81,80.73 L237.74,80.35 L238.68,79.96 L239.61,79.58 L240.55,79.20 L241.48,78.82 L242.42,78.44 L243.35,78.07 L244.29,77.69 L245.22,77.32 L246.16,76.95 L247.09,76.58 L248.03,76.22 L248.96,75.85 L249.90,75.49 L250.83,75.13 L251.77,74.77 L252.70,74.41 L253.64,74.06 L254.57,73.70 L255.51,73.35 L256.44,73.00 L257.38,72.65 L258.31,72.31 L259.25,71.96 L260.18,71.62 L261.12,71.28 L262.05,70.94 L262.99,70.60 L263.92,70.26 L264.86,69.92 L265.79,69.59 L266.73,69.26 L267.66,68.93 L268.59,68.60 L269.53,68.27 L270.46,67.95 L271.40,67.62 L272.33,67.30 L273.27,66.98 L274.20,66.66 L275.14,66.34 L276.07,66.03 L277.01,65.71 L277.94,65.40 L278.88,65.09 L279.81,64.78 L280.75,64.47 L281.69,64.16 L282.62,63.86 L283.56,63.55 L284.49,63.25 L285.43,62.95 L286.36,62.65 L287.30,62.35 L288.23,62.06 L289.17,61.76 L290.10,61.47 L291.04,61.18 L291.97,60.89 L292.91,60.60 L293.84,60.31 L294.78,60.03 L295.71,59.75 L296.65,59.46 L297.58,59.18 L298.52,58.90 L299.45,58.63 L300.39,58.35 L301.32,58.08 L302.26,57.80 L303.19,57.53 L304.12,57.26 L305.06,56.99 L306.00,56.72 L306.93,56.46 L307.87,56.19 L308.80,55.93 L309.74,55.67 L310.67,55.41 L311.61,55.15 L312.54,54.90 L313.48,54.64 L314.41,54.39 L315.35,54.13 L316.28,53.88 L317.21,53.63 L318.15,53.38 L319.08,53.14 L320.02,52.89 L320.95,52.65 L321.89,52.41 L322.82,52.17 L323.76,51.93 L324.69,51.69 L325.63,51.45 L326.56,51.22 L327.50,50.98 L328.44,50.75 L329.37,50.52 L330.31,50.29 L331.24,50.06 L332.18,49.84 L333.11,49.61 L334.05,49.39 L334.98,49.16 L335.92,48.94 L336.85,48.72 L337.79,48.51 L338.72,48.29 L339.66,48.07 L340.59,47.86 L341.53,47.65 L342.46,47.44 L343.40,47.23 L344.33,47.02 L345.27,46.81 L346.20,46.61 L347.14,46.40 L348.07,46.20 L349.01,46.01 L349.94,45.81 L350.88,45.61 L351.81,45.42 L352.75,45.23 L353.68,45.04 L354.62,44.85 L355.55,44.67 L356.49,44.49 L357.42,44.30 L358.36,44.12 L359.29,43.94 L360.23,43.77 L361.16,43.59 L362.10,43.42 L363.03,43.25 L363.96,43.08 L364.90,42.91 L365.83,42.74 L366.77,42.57 L367.70,42.41 L368.64,42.24 L369.57,42.08 L370.51,41.92 L371.44,41.76 L372.38,41.60 L373.31,41.44 L374.25,41.28 L375.19,41.12 L376.12,40.97 L377.06,40.82 L377.99,40.66 L378.93,40.51 L379.86,40.36 L380.80,40.21 L381.73,40.07 L382.67,39.92 L383.60,39.78 L384.54,39.63 L385.47,39.49 L386.41,39.35 L387.34,39.21 L388.28,39.08 L389.21,38.94 L390.15,38.81 L391.08,38.67 L392.02,38.54 L392.95,38.41 L393.89,38.28 L394.82,38.15 L395.76,38.03 L396.69,37.90 L397.62,37.78 L398.56,37.65 L399.50,37.53 L400.43,37.41 L401.37,37.29 L402.30,37.18" fill="none" stroke="#00ff00" stroke-width="2.2" stroke-dasharray="4.91 4.91" stroke-linejoin="round" stroke-linecap="square"/>
</g>
<text class="al" transform="translate(3.3,17.5) scale(1.12,1.04)" font-size="19.7" font-weight="bold">τ</text>
<text class="al" x="16.9" y="17.4" font-size="19.7">(MPa)</text>
<path fill="#000" d="M417.0,250.6 C417.2,249.0 417.9,247.9 418.9,247.9 C419.8,247.9 420.2,248.9 420.5,250.0 L421.55,253.7 L423.5,247.9 L425.0,247.9 L422.3,255.2 C422.15,256.5 422.25,258.0 422.25,259.3 C422.25,260.5 421.9,261.1 421.25,261.1 C420.6,261.1 420.2,260.5 420.2,259.3 C420.3,258.0 420.9,256.5 421.0,255.3 L419.8,251.6 C419.5,250.7 419.1,250.2 418.6,250.2 C418.0,250.2 417.7,250.4 417.0,250.6 Z"/>
</svg>
</body></html>
